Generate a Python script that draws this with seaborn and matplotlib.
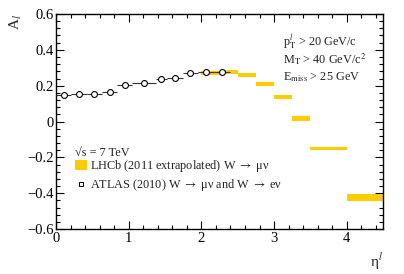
import matplotlib
matplotlib.use('Agg')
import matplotlib.pyplot as plt
import seaborn as sns
import pandas as pd
from matplotlib.patches import Patch
from matplotlib.lines import Line2D
from matplotlib.ticker import MultipleLocator

# ATLAS (2010) points: eta bin edges and asymmetry
atlas_lo = [0.0, 0.21, 0.42, 0.63, 0.84, 1.05, 1.37, 1.52, 1.74, 1.95, 2.18]
atlas_hi = [0.21, 0.42, 0.63, 0.84, 1.05, 1.37, 1.52, 1.74, 1.95, 2.18, 2.40]
atlas_a = [0.150, 0.156, 0.153, 0.167, 0.201, 0.216, 0.240, 0.244, 0.271, 0.276, 0.275]
atlas_err = [0.008, 0.008, 0.008, 0.008, 0.008, 0.008, 0.010, 0.008, 0.008, 0.008, 0.008]

# LHCb (2011 extrapolated) bins
lhcb_lo = [2.0, 2.25, 2.5, 2.75, 3.0, 3.25, 3.5, 4.0]
lhcb_hi = [2.25, 2.5, 2.75, 3.0, 3.25, 3.5, 4.0, 4.5]
lhcb_a = [0.270, 0.276, 0.262, 0.210, 0.137, 0.017, -0.150, -0.424]
lhcb_err = [0.011, 0.011, 0.011, 0.011, 0.011, 0.016, 0.007, 0.022]

atlas = pd.DataFrame({'lo': atlas_lo, 'hi': atlas_hi, 'A': atlas_a, 'err': atlas_err})
atlas['eta'] = (atlas['lo'] + atlas['hi']) / 2
lhcb = pd.DataFrame({'lo': lhcb_lo, 'hi': lhcb_hi, 'A': lhcb_a, 'err': lhcb_err})

sns.set_theme(style='ticks')
plt.rcParams['font.family'] = ['Liberation Serif', 'DejaVu Serif']
plt.rcParams['mathtext.fontset'] = 'stix'

fig = plt.figure(figsize=(4.04, 2.74), dpi=100)
ax = fig.add_axes([0.139, 0.164, 0.809, 0.785])

gold = '#FFCC00'
ax.bar(lhcb['lo'], 2 * lhcb['err'], width=lhcb['hi'] - lhcb['lo'],
       bottom=lhcb['A'] - lhcb['err'], align='edge', color=gold, linewidth=0, zorder=2)

ax.errorbar(atlas['eta'], atlas['A'],
            xerr=[atlas['eta'] - atlas['lo'], atlas['hi'] - atlas['eta']],
            yerr=atlas['err'], fmt='none', ecolor='#333333', elinewidth=0.8, capsize=0, zorder=3)
sns.scatterplot(data=atlas, x='eta', y='A', ax=ax, marker='o', s=18,
                facecolor='white', edgecolor='black', linewidth=0.8, zorder=4)

ax.set_xlim(0, 4.5)
ax.set_ylim(-0.6, 0.6)
ax.xaxis.set_major_locator(MultipleLocator(1))
ax.xaxis.set_minor_locator(MultipleLocator(0.2))
ax.yaxis.set_major_locator(MultipleLocator(0.2))
ax.yaxis.set_minor_locator(MultipleLocator(0.04))
ax.set_yticks([-0.6, -0.4, -0.2, 0, 0.2, 0.4, 0.6])
ax.set_yticklabels(['\u22120.6', '\u22120.4', '\u22120.2', '0', '0.2', '0.4', '0.6'])
ax.tick_params(which='both', direction='in', top=True, right=True, labelsize=10.5, pad=2, width=0.8, colors='black')
ax.tick_params(which='major', length=6)
ax.tick_params(which='minor', length=3)
for s in ax.spines.values():
    s.set_linewidth(1.0)
    s.set_color('black')

ax.set_xlabel('\u03b7$^{l}$', loc='right', fontsize=11, labelpad=4)
ax.set_ylabel('A$_{l}$', loc='top', fontsize=11, labelpad=2)

tkw = dict(transform=ax.transAxes, fontsize=8.8, ha='left', va='center', color='#222222')
ax.text(0.694, 0.868, r'p$_{\rm T}^{l}$ > 20 GeV/c', **tkw)
ax.text(0.694, 0.790, r'M$_{\rm T}$ > 40 GeV/c$^{2}$', **tkw)
ax.text(0.694, 0.708, r'E$_{\rm miss}$ > 25 GeV', **tkw)
ax.text(0.058, 0.353, '\u221as = 7 TeV', **tkw)

handles = [Patch(facecolor=gold, edgecolor='none'),
           Line2D([], [], marker='s', linestyle='none', markersize=3,
                  markerfacecolor='white', markeredgecolor='black', markeredgewidth=0.7)]
labels = ['LHCb (2011 extrapolated) W $\\rightarrow$ \u03bc\u03bd',
          'ATLAS (2010) W $\\rightarrow$ \u03bc\u03bd and W $\\rightarrow$ e\u03bd']
ax.legend(handles, labels, loc='center left', bbox_to_anchor=(0.058, 0.247), frameon=False,
          fontsize=8.8, handlelength=1.0, handleheight=0.9, handletextpad=0.2,
          labelspacing=0.25, borderaxespad=0, borderpad=0, labelcolor='#222222')

fig.savefig('out.png', dpi=100)
